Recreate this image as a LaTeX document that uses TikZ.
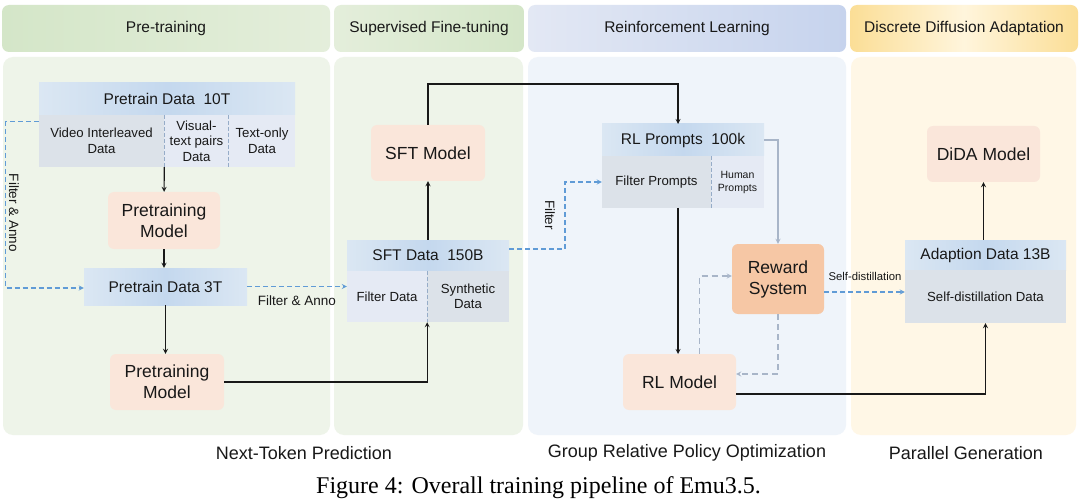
\documentclass[tikz,border=0pt]{standalone}
\usepackage{fontspec}
\setmainfont{Liberation Sans}
\newfontfamily\captionfont{Liberation Serif}
\usepackage{tikz}
\usetikzlibrary{arrows,shapes,positioning}
\usepackage{xcolor}
\definecolor{emutext}{RGB}{24,24,24}
\definecolor{emugreenA}{RGB}{212,230,200}
\definecolor{emugreenB}{RGB}{228,238,219}
\definecolor{emugreenbg}{RGB}{238,244,233}
\definecolor{emublueA}{RGB}{227,232,244}
\definecolor{emublueB}{RGB}{198,211,237}
\definecolor{emybluebg}{RGB}{239,244,250}
\definecolor{emuyellowA}{RGB}{251,222,150}
\definecolor{emuyellowB}{RGB}{255,245,220}
\definecolor{emuyellowbg}{RGB}{255,247,230}
\definecolor{emupeach}{RGB}{250,230,218}
\definecolor{emuorange}{RGB}{246,199,165}
\definecolor{emuhead1}{RGB}{219,231,243}
\definecolor{emuhead2}{RGB}{196,216,238}
\definecolor{emucellgray}{RGB}{220,226,233}
\definecolor{emucelllight}{RGB}{229,234,244}
\definecolor{emudiv}{RGB}{150,172,200}
\definecolor{emudash}{RGB}{96,155,214}
\definecolor{emugrayline}{RGB}{168,181,200}
\tikzstyle{phase} = [rectangle, rounded corners=7pt, inner sep=0pt, minimum height=47pt, text=emutext, font=\fontsize{15.5}{18}\selectfont]
\tikzstyle{panel} = [rectangle, rounded corners=10pt, inner sep=0pt, minimum height=378pt]
\tikzstyle{model} = [rectangle, rounded corners=6pt, fill=emupeach, inner sep=0pt, minimum width=113pt, minimum height=56pt, align=center, text=emutext, font=\fontsize{17.5}{21}\selectfont]
\tikzstyle{datahead} = [rectangle, inner sep=0pt, left color=emuhead1, right color=emuhead1, middle color=emuhead2, text=emutext, font=\fontsize{15.5}{18}\selectfont]
\tikzstyle{cell} = [rectangle, inner sep=0pt, align=center, text=emutext, font=\fontsize{13.2}{15.5}\selectfont]
\tikzstyle{arrow} = [line width=1.2pt, ->, >=stealth, color=emutext]
\tikzstyle{dashline} = [line width=1.2pt, ->, >=stealth, dash pattern=on 5pt off 3pt, color=emudash]
\tikzstyle{grayline} = [line width=1.2pt, ->, >=stealth, color=emugrayline]
\tikzstyle{divider} = [line width=0.8pt, dash pattern=on 4pt off 2pt, color=emudiv]
\tikzstyle{note} = [text=emutext, font=\fontsize{13.5}{16}\selectfont]
\tikzstyle{stage} = [text=emutext, font=\fontsize{18}{21}\selectfont]

\begin{document}
\begin{tikzpicture}[x=1pt, y=-1pt]
\useasboundingbox[fill=white] (0,0) rectangle (1080,500);

% Stage headers
\node[phase, minimum width=328pt, left color=emugreenA, right color=emugreenB] (hpre) at (166,28.5) {Pre-training};
\node[phase, minimum width=190pt, left color=emugreenB, right color=emugreenA] (hsft) at (429,28.5) {Supervised Fine-tuning};
\node[phase, minimum width=318pt, left color=emublueA, right color=emublueB] (hrl) at (687,28.5) {Reinforcement Learning};
\node[phase, minimum width=228pt, left color=emuyellowA, right color=emuyellowA, middle color=emuyellowB] (hdda) at (964,28.5) {Discrete Diffusion Adaptation};

% Stage panels
\node[panel, minimum width=327pt, fill=emugreenbg] (ppre) at (166.5,246) {};
\node[panel, minimum width=189pt, fill=emugreenbg] (psft) at (428.5,246) {};
\node[panel, minimum width=318pt, fill=emybluebg] (prl) at (687,246) {};
\node[panel, minimum width=225pt, fill=emuyellowbg] (pdda) at (963.5,246) {};

% Pre-training
\node[datahead, minimum width=256pt, minimum height=32pt] (d10t) at (167,99) {Pretrain Data\ \ 10T};
\node[cell, minimum width=125pt, minimum height=52pt, fill=emucellgray] (vid) at (101.5,141) {Video Interleaved\\Data};
\node[cell, minimum width=65pt, minimum height=52pt, fill=emucelllight] (vis) at (196.5,141) {Visual-\\text pairs\\Data};
\node[cell, minimum width=66pt, minimum height=52pt, fill=emucelllight] (txt) at (262,141) {Text-only\\Data};
\draw[divider] (vid.north east) -- (vid.south east);
\draw[divider] (txt.north west) -- (txt.south west);
\node[model, minimum width=112pt, minimum height=57pt] (pm1) at (164,220.5) {Pretraining\\Model};
\node[datahead, minimum width=163pt, minimum height=37pt] (d3t) at (165.5,286.5) {Pretrain Data 3T};
\node[model, minimum width=114pt] (pm2) at (167,382) {Pretraining\\Model};

% Supervised fine-tuning
\node[datahead, minimum width=162pt, minimum height=31pt] (sfth) at (428,255.5) {SFT Data\ \ 150B};
\node[cell, minimum width=80pt, minimum height=51pt, fill=emucelllight] (fd) at (387,296.5) {Filter Data};
\node[cell, minimum width=82pt, minimum height=51pt, fill=emucellgray] (sd) at (468,296.5) {Synthetic\\Data};
\draw[divider] (fd.north east) -- (fd.south east);
\node[model, minimum width=114pt] (sftm) at (428,153) {SFT Model};

% Reinforcement learning
\node[datahead, minimum width=162pt, minimum height=32pt] (rlp) at (683,140) {RL Prompts\ \ 100k};
\node[cell, minimum width=109pt, minimum height=52pt, fill=emucellgray] (fp) at (656.5,182) {Filter Prompts};
\node[cell, minimum width=53pt, minimum height=52pt, fill=emucelllight, font=\fontsize{10.5}{13}\selectfont] (hp) at (737.5,182) {Human\\Prompts};
\draw[divider] (fp.north east) -- (fp.south east);
\node[model, minimum width=92pt, minimum height=70pt, fill=emuorange] (reward) at (778,279) {Reward\\System};
\node[model] (rlm) at (679.5,382) {RL Model};

% Discrete diffusion adaptation
\node[datahead, minimum width=161pt, minimum height=30pt] (adh) at (985.5,255) {Adaption Data 13B};
\node[cell, minimum width=161pt, minimum height=53pt, fill=emucellgray] (sdd) at (985.5,296.5) {Self-distillation Data};
\node[model] (dida) at (983.5,154) {DiDA Model};

% Arrows
\draw[arrow] (vid.south east) -- (pm1);
\draw[arrow] (pm1.south) -- (pm1.south |- d3t.north);
\draw[arrow] (d3t.south) -- (d3t.south |- pm2.north);
\draw[arrow] (pm2.east) -| (fd.south east);
\draw[arrow] (sfth.north) -- (sftm.south);
\draw[arrow] (sftm.north) |- (678,84) -- (678,124);
\draw[arrow] (678,208) -- (678,354);
\draw[arrow] ([yshift=-12pt]rlm.east) -| (sdd.south);
\draw[arrow] (adh.north -| dida.south) -- (dida.south);

% Dashed links
\draw[dashline] ([yshift=-7pt]vid.north west) -- ++(-33,0) |- ([yshift=-1.5pt]d3t.west);
\node[note, rotate=-90] (lfa1) at (14,213) {Filter \& Anno};
\draw[dashline] (d3t.east) -- (d3t.east -| fd.west);
\node[note] (lfa2) at (297,301) {Filter \& Anno};
\draw[dashline] ([yshift=6.5pt]sfth.east) -| (565,182) -- (fp.west);
\node[note, rotate=-90] (lfil) at (550,215) {Filter};
\draw[dashline] ([yshift=-13pt]reward.east) -- ([yshift=-13pt]reward.east -| sdd.west);
\node[note, font=\fontsize{11.3}{13}\selectfont] (lsd) at (865,276) {Self-distillation};

% Reward loop
\draw[grayline] (rlp.east) -| (reward.north);
\draw[grayline, dash pattern=on 6pt off 4pt] ([xshift=20pt]rlm.north) |- ([yshift=3pt]reward.west);
\draw[grayline, dash pattern=on 6pt off 4pt] (reward.south) |- ([yshift=8pt]rlm.east);

% Bottom labels
\node[stage] (ntp) at (304,453) {Next-Token Prediction};
\node[stage] (grpo) at (687,453) {Group Relative Policy Optimization};
\node[stage] (pg) at (966,453) {Parallel Generation};
\node[font=\captionfont\fontsize{24}{28}\selectfont] (cap) at (538.5,488) {Figure 4: Overall training pipeline of Emu3.5.};
\end{tikzpicture}
\end{document}
